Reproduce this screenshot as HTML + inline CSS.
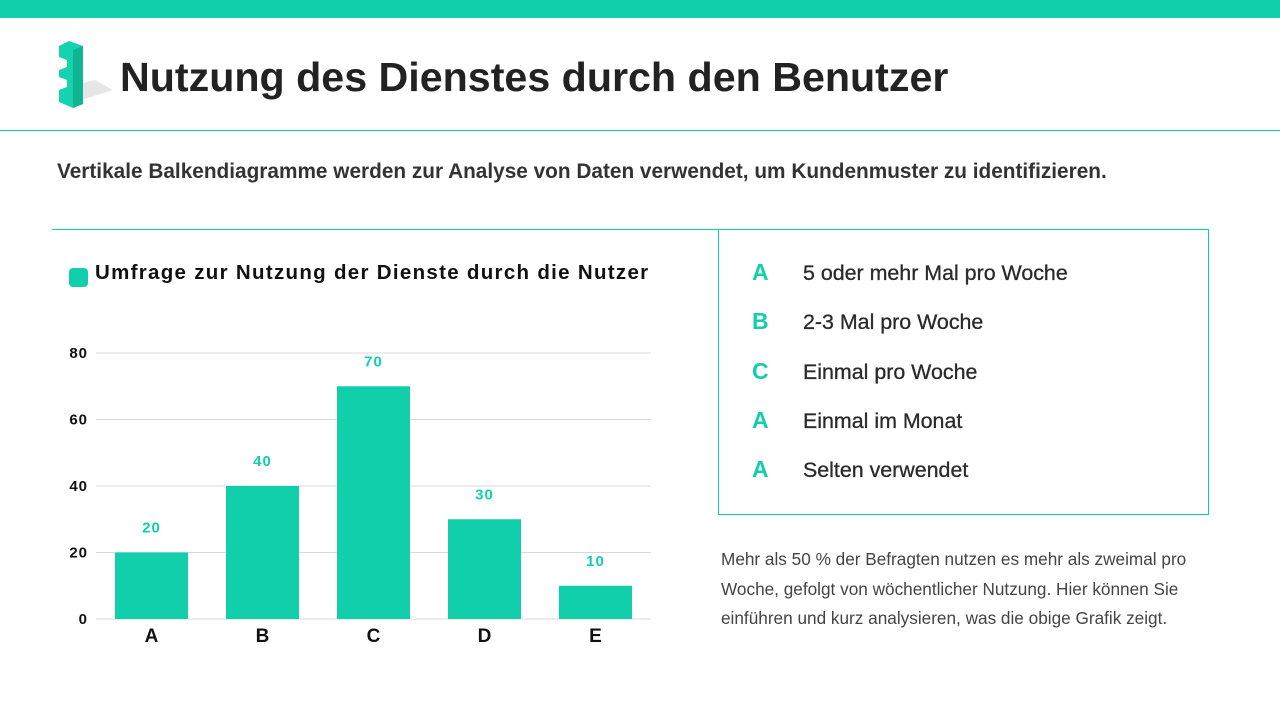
<!DOCTYPE html>
<html><head><meta charset="utf-8"><style>
body{margin:0;width:1280px;height:720px;background:#fff;position:relative;overflow:hidden;font-family:"Liberation Sans",sans-serif;color:#222}
.a{position:absolute;white-space:nowrap}
</style></head><body>
<div class="a" style="left:0;top:0;width:1280px;height:18px;background:#12cfab"></div>
<svg class="a" style="left:55px;top:40px" width="60" height="70" viewBox="0 0 60 70">
<polygon points="20,62 58,50 40,40 20,45" fill="#e6e6e6"/>
<polygon points="4,6 14,1 28,6 28,64 18,68 4,62 4,50 12,47 12,40 4,37 4,30 12,27 12,20 4,17" fill="#14d3ae"/>
<polygon points="18,10 28,6 28,64 18,68" fill="#0fb592"/>
</svg>
<div class="a" style="left:120px;top:54px;font-size:41.2px;font-weight:bold;color:#222">Nutzung des Dienstes durch den Benutzer</div>
<div class="a" style="left:0;top:130px;width:1280px;height:1px;background:#12cfab"></div>
<div class="a" style="left:57px;top:160px;font-size:20.8px;font-weight:bold;color:#333">Vertikale Balkendiagramme werden zur Analyse von Daten verwendet, um Kundenmuster zu identifizieren.</div>
<div class="a" style="left:52px;top:229px;width:666px;height:1px;background:#12cfab"></div>
<div class="a" style="left:69px;top:268px;width:19px;height:19px;border-radius:4px;background:#12cfab"></div>
<div class="a" style="left:95px;top:261px;font-size:20.5px;font-weight:900;color:#111;letter-spacing:1.3px">Umfrage zur Nutzung der Dienste durch die Nutzer</div>
<svg class="a" id="chart" style="left:0;top:0" width="720" height="720"></svg>
<div class="a" style="left:718px;top:229px;width:489px;height:284px;border:1.5px solid #12cfab"></div>
<div id="leg"></div>
<div class="a" style="left:721px;top:545px;width:490px;font-size:17.2px;line-height:29.5px;color:#444;white-space:normal">Mehr als 50 % der Befragten nutzen es mehr als zweimal pro Woche, gefolgt von wöchentlicher Nutzung. Hier können Sie einführen und kurz analysieren, was die obige Grafik zeigt.</div>
<script>
const categories=["A","B","C","D","E"];
const values=[20,40,70,30,10];
const ticks=[0,20,40,60,80];
const legendKeys=["A","B","C","A","A"];
const legendLabels=["5 oder mehr Mal pro Woche","2-3 Mal pro Woche","Einmal pro Woche","Einmal im Monat","Selten verwendet"];
const NS="http://www.w3.org/2000/svg";
const svg=document.getElementById('chart');
const y=v=>619-v*266/80;
const x=i=>115+i*111;
function mk(t,a){const e=document.createElementNS(NS,t);for(const k in a)e.setAttribute(k,a[k]);svg.appendChild(e);return e;}
ticks.forEach(t=>{
 const l=mk('line',{x1:96,x2:651,y1:y(t),y2:y(t),stroke:'#d8d8d8','stroke-width':1});
 
 
 const tx=mk('text',{x:88,y:y(t)+5,'text-anchor':'end','font-size':15,'font-weight':900,fill:'#111','font-family':'Liberation Sans','letter-spacing':1});
 tx.textContent=t;
 
 
});
categories.forEach((c,i)=>{
 const r=mk('rect',{x:x(i),y:y(values[i]),width:73,height:619-y(values[i]),fill:'#12cfab'});
 
 
 const v=mk('text',{x:x(i)+36.5,y:y(values[i])-20,'text-anchor':'middle','font-size':15,'font-weight':900,fill:'#12cfab','font-family':'Liberation Sans','letter-spacing':1});
 v.textContent=values[i];
 
 
 const cl=mk('text',{x:x(i)+36.5,y:642,'text-anchor':'middle','font-size':19,'font-weight':900,fill:'#111','font-family':'Liberation Sans'});
 cl.textContent=c;
 
 
});
const leg=document.getElementById('leg');
legendKeys.forEach((k,i)=>{
 const top=259+i*49.3;
 const a=document.createElement('div');
 a.className='a';a.style.cssText=`left:752px;top:${top}px;font-size:23px;font-weight:900;color:#12cfab`;
 a.textContent=k;
 
 
 leg.appendChild(a);
 const b=document.createElement('div');
 b.className='a';b.style.cssText=`left:803px;top:${top+2}px;font-size:21.4px;color:#2a2a2a;-webkit-text-stroke:0.3px #2a2a2a`;
 b.textContent=legendLabels[i];
 
 
 leg.appendChild(b);
});
</script>
</body></html>
